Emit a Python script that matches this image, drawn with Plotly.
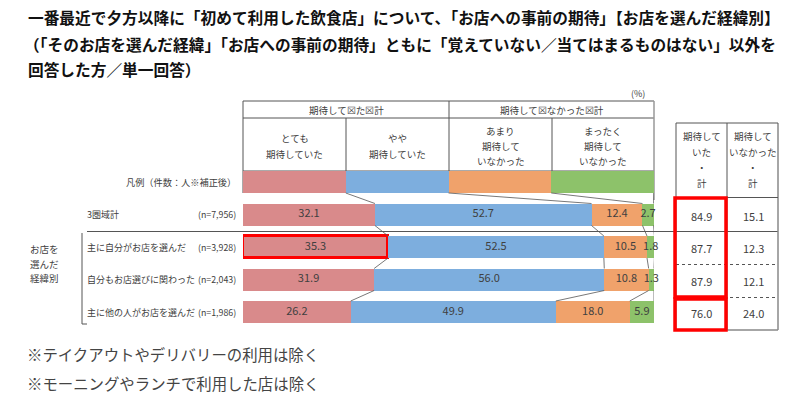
import plotly.graph_objects as go

# ---------------- data ----------------
categories = ["凡例（件数：人※補正後）", "3圏域計", "主に自分がお店を選んだ",
              "自分もお店選びに関わった", "主に他の人がお店を選んだ"]
n_labels = ["", "(n=7,956)", "(n=3,928)", "(n=2,043)", "(n=1,986)"]
series_names = ["とても\n期待していた", "やや\n期待していた",
                "あまり\n期待して\nいなかった", "まったく\n期待して\nいなかった"]
very = [25, 32.1, 35.3, 31.9, 26.2]
somewhat = [25, 52.7, 52.5, 56.0, 49.9]
not_much = [25, 12.4, 10.5, 10.8, 18.0]
not_at_all = [25, 2.7, 1.8, 1.3, 5.9]
show_values = [False, True, True, True, True]
expected_total = [None, 84.9, 87.7, 87.9, 76.0]
not_expected_total = [None, 15.1, 12.3, 12.1, 24.0]
highlight_very = [False, False, True, False, False]
group_headers = ["期待して☒た☒計", "期待して☒なかった☒計"]
total_headers = [["期待して", "いた", "・", "計"], ["期待して", "いなかった", "・", "計"]]
title_lines = ["一番最近で夕方以降に「初めて利用した飲食店」について、「お店への事前の期待」【お店を選んだ経緯別】",
               "（「そのお店を選んだ経緯」「お店への事前の期待」ともに「覚えていない／当てはまるものはない」以外を",
               "回答した方／単一回答）"]
group_label = ["お店を", "選んだ", "経緯別"]
footnotes = ["※テイクアウトやデリバリーの利用は除く", "※モーニングやランチで利用した店は除く"]

# ---------------- layout constants ----------------
W, H = 800, 403
X0, X1 = 243, 654
ROW0, STEP = 182, 32.5
BAR_H = 22
FONT = "Noto Sans CJK JP"
TXT = "#404040"
LINE = "#555555"
colors = ["#D98A8B", "#7DAEDE", "#F0A26B", "#8DC26A"]


def px(x):
    return x / W


def py(y):
    return 1 - y / H


rows = list(range(len(categories)))
series = [very, somewhat, not_much, not_at_all]

fig = go.Figure()

# stacked bars
for k, (vals, col) in enumerate(zip(series, colors)):
    if k == 0:
        line = dict(width=[3.5 if h else 0 for h in highlight_very],
                    color=["#FF0000" if h else col for h in highlight_very])
    else:
        line = dict(width=0)
    fig.add_trace(go.Bar(y=rows, x=vals, orientation="h", marker=dict(color=col, line=line),
                         width=BAR_H / STEP, hoverinfo="skip", showlegend=False,
                         name=series_names[k].replace("\n", "")))

# cumulative boundaries
cum = []
for i in rows:
    c, acc = [], 0
    for s in series:
        acc += s[i]
        c.append(acc)
    cum.append(c)

# connector lines between rows
cx, cy = [], []
half = BAR_H / STEP / 2
for i in rows[:-1]:
    for k in range(len(series)):
        cx += [cum[i][k], cum[i + 1][k], None]
        cy += [i + half, i + 1 - half, None]
fig.add_trace(go.Scatter(x=cx, y=cy, mode="lines", line=dict(color=LINE, width=0.8),
                         hoverinfo="skip", showlegend=False, cliponaxis=False))

# value labels
tx, ty, tt = [], [], []
for i in rows:
    if not show_values[i]:
        continue
    prev = 0
    for k, s in enumerate(series):
        tx.append(prev + s[i] / 2)
        ty.append(i)
        tt.append(f"{s[i]:.1f}")
        prev += s[i]
fig.add_trace(go.Scatter(x=tx, y=ty, text=tt, mode="text", cliponaxis=False,
                         textfont=dict(family=FONT, size=11, color=TXT),
                         hoverinfo="skip", showlegend=False))

fig.update_layout(
    width=W, height=H, margin=dict(l=0, r=0, t=0, b=0),
    paper_bgcolor="white", plot_bgcolor="white",
    barmode="stack", bargap=0,
    xaxis=dict(domain=[px(X0), px(X1)], range=[0, 100], visible=False, fixedrange=True),
    yaxis=dict(domain=[0, 1], range=[(H - ROW0) / STEP, -ROW0 / STEP], visible=False, fixedrange=True),
    font=dict(family=FONT, color=TXT),
)

shapes = []


def hline(x0, x1, y, color=LINE, width=1, dash="solid"):
    shapes.append(dict(type="line", xref="paper", yref="paper", x0=px(x0), x1=px(x1),
                       y0=py(y), y1=py(y), line=dict(color=color, width=width, dash=dash), layer="below"))


def vline(x, y0, y1, color=LINE, width=1):
    shapes.append(dict(type="line", xref="paper", yref="paper", x0=px(x), x1=px(x),
                       y0=py(y0), y1=py(y1), line=dict(color=color, width=width), layer="below"))


# header table
hline(X0, X1, 101)
hline(X0, X1, 118)
hline(X0, X1, 171)
vline(X0, 101, 193)
vline(X1, 101, 200, color="#999999", width=1.5)
vline(449, 101, 171)
vline(346, 118, 171)
vline(552, 118, 171)

# group separator + bracket
hline(87, 778, 231.5)
vline(82, 233, 324)
hline(82, 87, 324)

# right table
vline(676, 123, 330)
vline(727, 123, 330)
vline(778, 123, 330, color="#888888", width=1.5)
hline(676, 778, 123)
hline(676, 778, 197.5)
hline(676, 778, 264.5, dash="dot")
hline(676, 778, 297.5, dash="dot")
hline(676, 778, 330, color="#888888", width=1.5)

# red highlight boxes
for (a, b, c, d) in [(675, 726, 198, 297), (675, 726, 299, 330)]:
    shapes.append(dict(type="rect", xref="paper", yref="paper", x0=px(a), x1=px(b),
                       y0=py(d), y1=py(c), line=dict(color="#FF0000", width=3.5)))

fig.update_layout(shapes=shapes)

ann = []


def text(x, y, s, size=10, anchor="center", color=TXT, weight="normal"):
    ann.append(dict(x=px(x), y=py(y), xref="paper", yref="paper", text=s, showarrow=False,
                    xanchor=anchor, yanchor="middle",
                    font=dict(family=FONT, size=size, color=color, weight=weight)))


# title
for j, line_txt in enumerate(title_lines):
    text(22 if j == 1 else 26, [18, 44, 70][j], line_txt, size=15.7, anchor="left",
         color="#111111", weight="bold")

text(638, 94, "(%)", size=9)

# header texts
text((X0 + 449) / 2, 110, group_headers[0], size=9.5)
text((449 + X1) / 2, 110, group_headers[1], size=9.5)
hx = [(X0 + 346) / 2, (346 + 449) / 2, (449 + 552) / 2, (552 + X1) / 2]
for k, nm in enumerate(series_names):
    lines = nm.split("\n")
    n = len(lines)
    for j, ln in enumerate(lines):
        text(hx[k], 146 + (j - (n - 1) / 2) * 15.5, ln, size=9.5)

# row labels
for i, cat in enumerate(categories):
    yc = ROW0 + STEP * i
    if i == 0:
        text(238, yc, cat, size=9.2, anchor="right")
    else:
        text(85, yc, cat, size=9, anchor="left")
        text(238, yc, n_labels[i], size=8.8, anchor="right")

for j, g in enumerate(group_label):
    text(28, 249 + j * 14.5, g, size=9.5, anchor="left")

# right table header
for c, xc in enumerate([701.5, 753]):
    for j, ln in enumerate(total_headers[c]):
        text(xc, [136, 152, 167, 183][j], ln, size=9.5)
for i in rows:
    if expected_total[i] is None:
        continue
    yc = ROW0 + STEP * i
    text(701.5, yc + 1, f"{expected_total[i]:.1f}", size=11)
    text(753, yc + 1, f"{not_expected_total[i]:.1f}", size=11)

# footnotes
text(25, 354, footnotes[0], size=15.4, anchor="left", color="#444444")
text(25, 383, footnotes[1], size=15.4, anchor="left", color="#444444")

fig.update_layout(annotations=ann)
fig.write_html("out.html", config={"displayModeBar": False},
               post_script="document.body.style.margin='0';document.body.style.padding='0';")
